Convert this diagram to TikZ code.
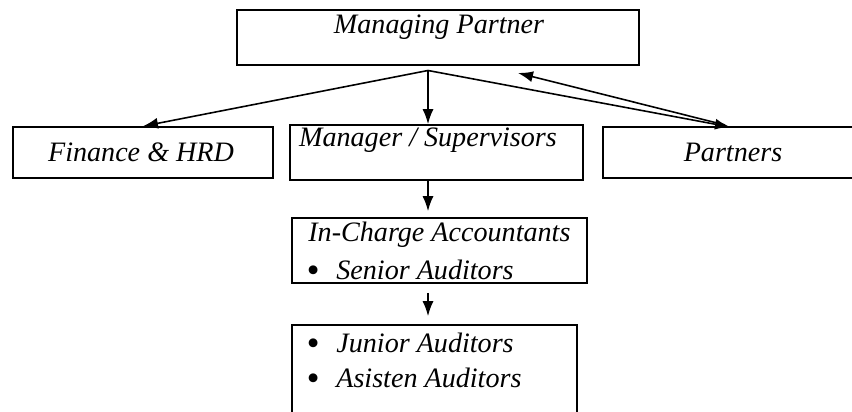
\documentclass[tikz,border=0pt]{standalone}
\usepackage{fontspec}
\setmainfont{Liberation Serif}
\usetikzlibrary{arrows.meta}

\newcommand{\dotitem}{\makebox[0.6cm][l]{\smash{\raisebox{-0.05cm}{\fontsize{21}{21}\selectfont\textbullet}}}}

\begin{document}
\begin{tikzpicture}[
    box/.style={draw, line width=0.9pt, inner sep=0pt},
    txt/.style={font=\fontsize{16}{19}\selectfont\itshape, inner sep=0pt},
    item/.style={txt, anchor=west},
    >={Latex[length=0.3cm, width=0.22cm]}]

        \useasboundingbox (0, 0) rectangle (17.04, 8.24);
        \clip (0, 0) rectangle (17.04, 8.24);

        \node[box, minimum width=8.04cm, minimum height=1.1cm] (mp) at (8.76, 7.49) {};
        \node[box, minimum width=5.2cm, minimum height=1.02cm] (fin) at (2.86, 5.19) {};
        \node[box, minimum width=5.86cm, minimum height=1.1cm] (mgr) at (8.73, 5.19) {};
        \node[box, minimum width=5.54cm, minimum height=1.02cm] (par) at (14.83, 5.19) {};
        \node[box, minimum width=5.9cm, minimum height=1.3cm] (inc) at (8.79, 3.23) {};
        \node[box, minimum width=5.7cm, minimum height=2.4cm] (jun) at (8.69, 0.54) {};

        \node[txt] (mpt) at (8.78, 7.7) {Managing Partner};
        \node[txt] (fint) at (2.82, 5.2) {Finance \& HRD};
        \node[txt] (mgrt) at (8.56, 5.44) {Manager / Supervisors};
        \node[txt] (part) at (14.66, 5.2) {Partners};
        \node[item] (inct) at (6.16, 3.54) {In-Charge Accountants};
        \node[item] (incs) at (6.12, 2.84) {\dotitem Senior Auditors};
        \node[item] (juna) at (6.12, 1.38) {\dotitem Junior Auditors};
        \node[item] (junb) at (6.12, 0.68) {\dotitem Asisten Auditors};

        \coordinate (hub) at (8.56, 6.83);
        \coordinate (pin) at (14.6, 5.7);
        \coordinate (back) at (10.36, 6.78);

        \draw[line width=0.9pt, ->] (hub) -- (fin.north);
        \draw[line width=0.9pt, ->] (hub) -- (hub |- mgr.north);
        \draw[line width=0.9pt, ->] (hub) -- (pin);
        \draw[line width=0.9pt, ->] ([xshift=-0.1cm, yshift=0.04cm]pin) -- (back);
        \draw[line width=0.9pt, ->, shorten >=0.12cm] (hub |- mgr.south) -- (hub |- inc.north);
        \draw[line width=0.9pt, ->, shorten <=0.18cm, shorten >=0.16cm] (hub |- inc.south) -- (hub |- jun.north);

      \end{tikzpicture}
\end{document}
